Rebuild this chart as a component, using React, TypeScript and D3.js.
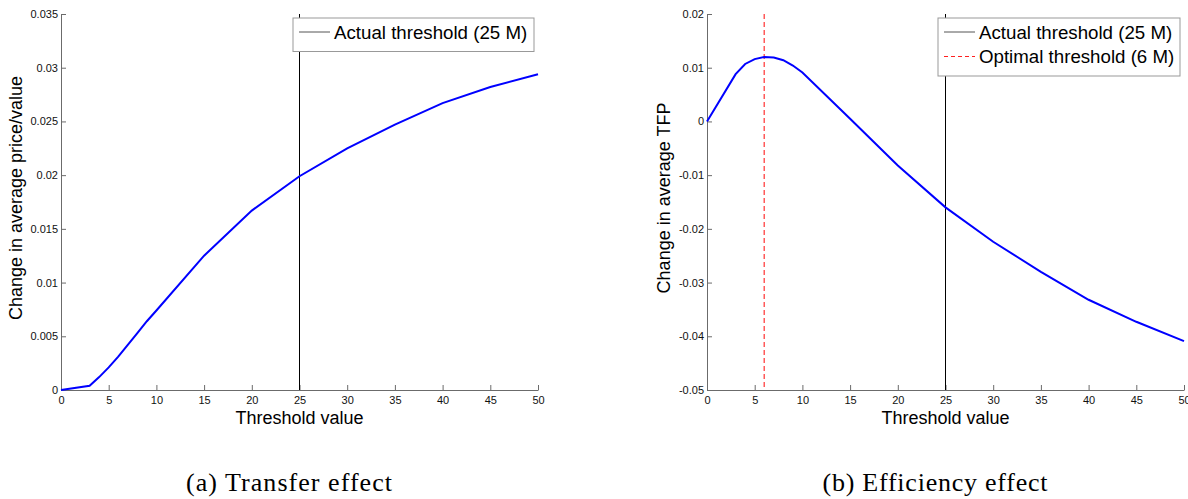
import { useEffect, useRef } from "react";
import * as d3 from "d3";

// threshold values (million) at which the model was evaluated
const thresholds = [0, 3, 4, 5, 6, 7, 8, 9, 10, 15, 20, 25, 30, 35, 40, 45, 50];

// (a) transfer effect: change in average price/value
const transferValues = [0, 0.0004, 0.0012, 0.0021, 0.0031, 0.0042, 0.0053, 0.0064, 0.0074, 0.0125, 0.0167, 0.0199, 0.0225, 0.0247, 0.0267, 0.0282, 0.0294];

// (b) efficiency effect: change in average TFP
const efficiencyValues = [0, 0.0088, 0.0107, 0.0116, 0.0120, 0.0119, 0.0114, 0.0104, 0.0091, 0.0005, -0.0082, -0.0160, -0.0224, -0.0280, -0.0332, -0.0373, -0.0409];

const xTicks = [0, 5, 10, 15, 20, 25, 30, 35, 40, 45, 50];
const transferTicks = [0, 0.005, 0.01, 0.015, 0.02, 0.025, 0.03, 0.035];
const efficiencyTicks = [-0.05, -0.04, -0.03, -0.02, -0.01, 0, 0.01, 0.02];

const actualThreshold = 25;
const optimalThreshold = 6;

const panels = [
    {
        left: 61, values: transferValues, ticks: transferTicks, yLabel: "Change in average price/value",
        labelX: 22, caption: "(a) Transfer effect", captionW: 206, showOptimal: false
    },
    {
        left: 707, values: efficiencyValues, ticks: efficiencyTicks, yLabel: "Change in average TFP",
        labelX: 670, caption: "(b) Efficiency effect", captionW: 225, showOptimal: true
    }
];

export default function App() {
    const ref = useRef<SVGSVGElement>(null);

    useEffect(() => {
        const svg = d3.select(ref.current);
        svg.selectAll("*").remove();

        const w = 477;
        const top = 14;
        const bottom = 390;
        const sans = "'Liberation Sans', Arial, sans-serif";

        panels.forEach((p) => {
            const x = d3.scaleLinear().domain([0, 50]).range([0, w]);
            const y = d3.scaleLinear().domain([p.ticks[0], p.ticks[p.ticks.length - 1]]).range([bottom - top, 0]);

            const g = svg.append("g").attr("transform", `translate(${p.left},${top})`);

            const fmt = (d: any) => String(+(+d).toFixed(3));

            // axes, ticks pointing inwards like matlab
            const yAxis = d3.axisLeft(y).tickValues(p.ticks).tickFormat(fmt).tickSize(-5).tickSizeOuter(0).tickPadding(3);
            const xAxis = d3.axisBottom(x).tickValues(xTicks).tickFormat(fmt).tickSize(-5).tickSizeOuter(0).tickPadding(6);

            const ya = g.append("g").call(yAxis);
            const xa = g.append("g").attr("transform", `translate(0,${bottom - top})`).call(xAxis);
            [ya, xa].forEach((a) => {
                a.selectAll("path, line").attr("stroke", "#6b6b6b");
                a.selectAll("text").attr("font-family", sans).attr("font-size", 11).attr("fill", "#111");
            });

            // threshold lines
            g.append("line")
                .attr("x1", x(actualThreshold)).attr("x2", x(actualThreshold))
                .attr("y1", 0).attr("y2", bottom - top)
                .attr("stroke", "black").attr("stroke-width", 1);

            if (p.showOptimal) {
                g.append("line")
                    .attr("x1", x(optimalThreshold)).attr("x2", x(optimalThreshold))
                    .attr("y1", 0).attr("y2", bottom - top)
                    .attr("stroke", "#ff5a5a").attr("stroke-width", 1.5)
                    .attr("stroke-dasharray", "5,3");
            }

            g.append("path")
                .datum(p.values)
                .attr("fill", "none")
                .attr("stroke", "#0000ff")
                .attr("stroke-width", 2)
                .attr("d", d3.line<number>()
                    .x((d, i) => x(thresholds[i]))
                    .y((d) => y(d)));

            // axis titles
            g.append("text")
                .attr("x", w / 2).attr("y", 424 - top)
                .attr("text-anchor", "middle")
                .attr("font-family", sans).attr("font-size", 18)
                .text("Threshold value");

            svg.append("text")
                .attr("transform", `translate(${p.labelX},198) rotate(-90)`)
                .attr("text-anchor", "middle")
                .attr("font-family", sans).attr("font-size", 18)
                .text(p.yLabel);

            // legend
            const items = p.showOptimal
                ? [{ label: "Actual threshold (25 M)", color: "#555", dash: null }, { label: "Optimal threshold (6 M)", color: "#ff2020", dash: "4,3" }]
                : [{ label: "Actual threshold (25 M)", color: "#555", dash: null }];
            const legW = p.showOptimal ? 242 : 241;
            const legX = p.showOptimal ? 938 - p.left : 293 - p.left;
            const lg = g.append("g").attr("transform", `translate(${legX},${18 - top})`);
            lg.append("rect")
                .attr("width", legW).attr("height", 9 + items.length * 24.5)
                .attr("fill", "white").attr("stroke", "#999");
            items.forEach((it, i) => {
                const cy = 14 + i * 24.5;
                lg.append("line")
                    .attr("x1", 6).attr("x2", 37).attr("y1", cy).attr("y2", cy)
                    .attr("stroke", it.color).attr("stroke-width", 1)
                    .attr("stroke-dasharray", it.dash);
                lg.append("text")
                    .attr("x", 41).attr("y", cy + 6.5)
                    .attr("font-family", sans).attr("font-size", 18.7)
                    .text(it.label);
            });

            // caption
            svg.append("text")
                .attr("x", p.left + 228).attr("y", 491)
                .attr("text-anchor", "middle")
                .attr("font-family", "'Liberation Serif', 'Times New Roman', serif").attr("font-size", 26)
                .attr("textLength", p.captionW).attr("lengthAdjust", "spacing")
                .text(p.caption);
        });
    }, []);

    return (
        <svg ref={ref} width={1188} height={499}
            style={{ position: "absolute", left: 0, top: 0, background: "white" }}></svg>
    );
}
